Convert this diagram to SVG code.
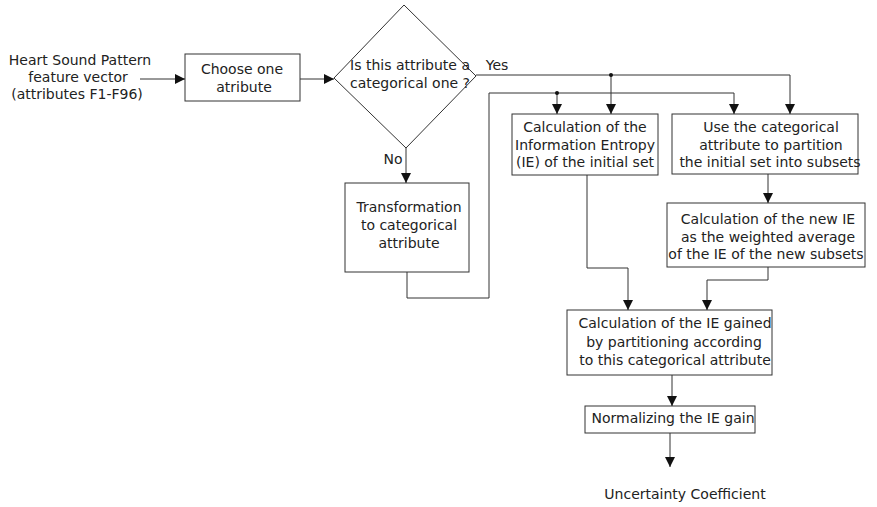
<svg xmlns="http://www.w3.org/2000/svg" width="877" height="507" viewBox="0 0 877 507">
<style>
text{font-family:"DejaVu Sans","Liberation Sans",sans-serif;font-size:14px;fill:#222;text-anchor:middle}
.box{fill:#fff;stroke:#333;stroke-width:1}
.c{fill:none;stroke:#333;stroke-width:1}
</style>
<defs>
<marker id="ah" markerWidth="10" markerHeight="10" refX="10" refY="5" orient="auto" markerUnits="userSpaceOnUse">
<path d="M0,0 L10,5 L0,10 Z" fill="#111"/>
</marker>
</defs>
<rect width="877" height="507" fill="#fff"/>
<g id="input">
<text x="80" y="65">Heart Sound Pattern</text>
<text x="78" y="82">feature vector</text>
<text x="77" y="99">(attributes F1-F96)</text>
</g>
<g id="choose">
<rect class="box" x="185" y="54" width="115" height="47"/>
<text x="242" y="74">Choose one</text>
<text x="244" y="92">atribute</text>
</g>
<g id="decision">
<polygon class="box" points="404,5 476,76 406,148 334,78"/>
<text x="410" y="70">Is this attribute a</text>
<text x="410" y="88">categorical one ?</text>
</g>
<g id="transform">
<rect class="box" x="345" y="183" width="124" height="89"/>
<text x="409" y="212">Transformation</text>
<text x="409" y="230">to categorical</text>
<text x="409" y="248">attribute</text>
</g>
<g id="calcIE">
<rect class="box" x="512" y="114" width="146" height="61"/>
<text x="585" y="132">Calculation of the</text>
<text x="585" y="150">Information Entropy</text>
<text x="585" y="167">(IE) of the initial set</text>
</g>
<g id="partition">
<rect class="box" x="672" y="114" width="186" height="60"/>
<text x="771" y="132">Use the categorical</text>
<text x="771" y="150">attribute to partition</text>
<text x="770" y="167">the initial set into subsets</text>
</g>
<g id="newIE">
<rect class="box" x="667" y="203" width="198" height="64"/>
<text x="768" y="224">Calculation of the new IE</text>
<text x="768" y="242">as the weighted average</text>
<text x="766" y="259">of the IE of the new subsets</text>
</g>
<g id="gain">
<rect class="box" x="567" y="310" width="205" height="65"/>
<text x="675" y="328">Calculation of the IE gained</text>
<text x="674" y="347">by partitioning according</text>
<text x="675" y="365">to this categorical attribute</text>
</g>
<g id="normalize">
<rect class="box" x="585" y="406" width="170" height="27"/>
<text x="673" y="423">Normalizing the IE gain</text>
</g>
<g id="output">
<text x="685" y="499">Uncertainty Coefficient</text>
</g>
<g id="connectors">
<line class="c" x1="140" y1="79" x2="185" y2="79" marker-end="url(#ah)"/>
<line class="c" x1="300" y1="79" x2="334" y2="79" marker-end="url(#ah)"/>
<polyline class="c" points="476,75 790,75 790,114" marker-end="url(#ah)"/>
<line class="c" x1="611" y1="75" x2="611" y2="114" marker-end="url(#ah)"/>
<circle cx="611" cy="75" r="2" fill="#111"/>
<line class="c" x1="406" y1="148" x2="406" y2="183" marker-end="url(#ah)"/>
<polyline class="c" points="407,272 407,298 489,298 489,93 734,93 734,114" marker-end="url(#ah)"/>
<line class="c" x1="557" y1="93" x2="557" y2="114" marker-end="url(#ah)"/>
<circle cx="557" cy="93" r="2" fill="#111"/>
<line class="c" x1="768" y1="174" x2="768" y2="203" marker-end="url(#ah)"/>
<polyline class="c" points="587,175 587,268 628,268 628,310" marker-end="url(#ah)"/>
<polyline class="c" points="768,267 768,280 707,280 707,310" marker-end="url(#ah)"/>
<line class="c" x1="672" y1="375" x2="672" y2="406" marker-end="url(#ah)"/>
<line class="c" x1="670" y1="433" x2="670" y2="467" marker-end="url(#ah)"/>
</g>
<g id="labels">
<text x="497" y="70">Yes</text>
<text x="393" y="164">No</text>
</g>
</svg>
